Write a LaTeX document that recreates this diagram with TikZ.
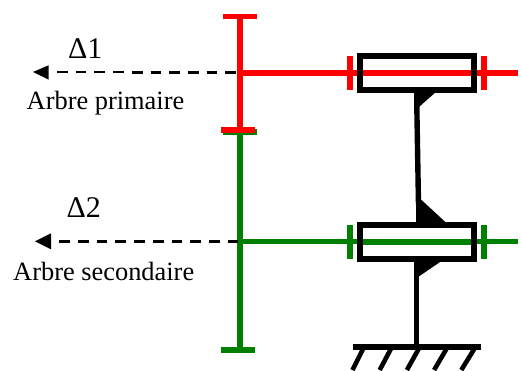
\documentclass[tikz,border=0pt]{standalone}
\usepackage{fontspec}
\setmainfont{Liberation Serif}
\usetikzlibrary{arrows.meta}
\definecolor{grn}{RGB}{0,128,0}
\tikzset{
  x=1pt,y=-1pt,
  redline/.style={draw=red,line width=5.4pt},
  grnline/.style={draw=grn,line width=5.4pt},
  blk/.style={draw=black,line width=5.4pt},
  boxb/.style={draw=black,line width=6pt,minimum width=114pt,minimum height=34.2pt,inner sep=0pt,outer sep=0pt},
  hatch/.style={draw=black,line width=4.6pt},
  axisl/.style={draw=black,line width=3pt,dash pattern=on 10.7pt off 8pt},
  axisthin/.style={draw=black,line width=1.6pt,dash pattern=on 10.7pt off 8pt},
  tip/.style={fill=black,draw=none},
  lab/.style={inner sep=0pt,font=\fontsize{26.4}{28}\selectfont},
  dlab/.style={inner sep=0pt,font=\fontsize{30}{32}\selectfont},
}
\begin{document}
\begin{tikzpicture}
\useasboundingbox (0,0) rectangle (521,370);
\fill[white] (0,0) rectangle (521,370);
% coordinates
\coordinate (r1) at (240,16.5); \coordinate (r2) at (240,130);
\coordinate (g1) at (240,132); \coordinate (g2) at (240,350);
\coordinate (rc) at (240,73); \coordinate (rend) at (518,73);
\coordinate (gc) at (240,241.5); \coordinate (gend) at (518,241.5);
% green gear
\draw[grnline] (223,132) -- (257,132);
\draw[grnline] (g1) -- (g2);
\draw[grnline] (221,350) -- (255,350);
% black pillar
\coordinate (p1) at (416.7,100); \coordinate (p2) at (418.5,205);
\draw[blk] (p1) -- (p2);
\coordinate (p3) at (416.7,270); \coordinate (p4) at (416.7,347);
\draw[blk] (p3) -- (p4);
\fill (414,91) -- (437,91) -- (419.3,106.7) -- (414.3,106.7) -- cycle;
\fill (416,224) -- (447.5,224) -- (421.5,200) -- (416,200) -- cycle;
\fill (414,260) -- (443,260) -- (419.5,276) -- (414.3,276) -- cycle;
% ground
\draw[blk] (353,347) -- (481,347);
\foreach \i in {0,...,4}
  \draw[hatch] (363+27.8*\i,349) -- (352.5+27.2*\i,370);
% red gear
\draw[redline] (r1) -- (r2);
\draw[redline] (223,16.5) -- (257,16.5);
\draw[redline] (221,130) -- (255,130);
\draw[redline] (rc) -- (rend);
\draw[redline,line width=5.8pt] (350,56) -- (350,90);
\draw[redline,line width=5.8pt] (483.7,56) -- (483.7,90);
% green shaft
\draw[grnline] (gc) -- (gend);
\draw[grnline,line width=5.8pt] (350,225) -- (350,259);
\draw[grnline,line width=5.8pt] (483.7,225) -- (483.7,259);
% boxes
\node[boxb] (b1) at (416.9,72.8) {};
\node[boxb] (b2) at (416.9,241.8) {};
\draw[redline] (b1.west) -- (b1.east);
\draw[grnline] (b2.west) -- (b2.east);
\draw[blk,line width=6pt] (b1.south west) -- (b1.north west);
\draw[blk,line width=6pt] (b1.south east) -- (b1.north east);
\draw[blk,line width=6pt] (b2.south west) -- (b2.north west);
\draw[blk,line width=6pt] (b2.south east) -- (b2.north east);
% axes
\coordinate (a1) at (57,72); \coordinate (a1m) at (131.8,72); \coordinate (a1e) at (238,72);
\draw[axisthin] (a1) -- (a1m);
\draw[axisl] (a1m) -- (a1e);
\fill[tip] (33,72) -- (48.5,65.3) -- (48.5,79.5) -- cycle;
\coordinate (a2) at (59.3,241.3); \coordinate (a2e) at (238,241.3);
\draw[axisl] (a2) -- (a2e);
\fill[tip] (35,241.3) -- (51,233.3) -- (51,249.3) -- cycle;
% labels
\node[dlab,anchor=base west] (d1) at (68,58.5) {Δ1};
\node[dlab,anchor=base west] (d2) at (66.5,217) {Δ2};
\node[lab,anchor=base west] (t1) at (26.5,109.5) {Arbre primaire};
\node[lab,anchor=base west] (t2) at (13,280) {Arbre secondaire};
\end{tikzpicture}
\end{document}
